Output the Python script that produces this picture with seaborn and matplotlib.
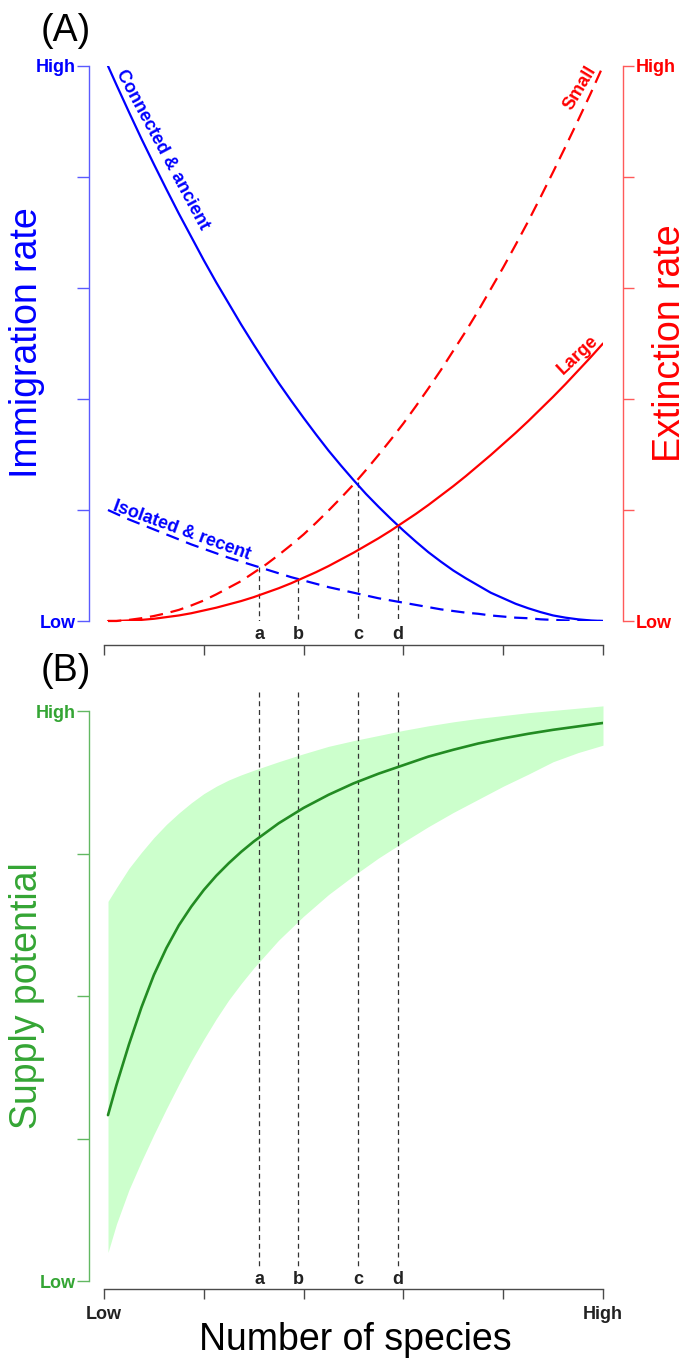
import matplotlib
matplotlib.use("Agg")
import matplotlib.pyplot as plt
import seaborn as sns

# ---------------- data ----------------
# Panel A: species axis positions (0 = Low, 1 = High)
x_a = [0.008, 0.025, 0.05, 0.075, 0.10, 0.125, 0.15, 0.175, 0.20, 0.225, 0.25,
       0.275, 0.30, 0.325, 0.35, 0.375, 0.40, 0.425, 0.45, 0.475, 0.50,
       0.525, 0.55, 0.575, 0.60, 0.625, 0.65, 0.675, 0.70, 0.725, 0.75,
       0.775, 0.80, 0.825, 0.85, 0.875, 0.90, 0.925, 0.95, 0.975, 1.00]

# immigration (blue) and extinction (red) rates, 0 = Low, 1 = High
connected = [1.000, 0.966, 0.917, 0.869, 0.823, 0.778, 0.734, 0.692, 0.650, 0.610, 0.572,
             0.534, 0.498, 0.463, 0.429, 0.397, 0.366, 0.336, 0.307, 0.280, 0.254,
             0.229, 0.206, 0.184, 0.163, 0.143, 0.124, 0.107, 0.091, 0.077, 0.064,
             0.051, 0.041, 0.031, 0.023, 0.016, 0.010, 0.006, 0.003, 0.001, 0.000]
isolated = [0.200, 0.193, 0.183, 0.174, 0.165, 0.156, 0.147, 0.138, 0.130, 0.122, 0.114,
            0.107, 0.100, 0.093, 0.086, 0.079, 0.073, 0.067, 0.061, 0.056, 0.051,
            0.046, 0.041, 0.037, 0.033, 0.029, 0.025, 0.021, 0.018, 0.015, 0.013,
            0.010, 0.008, 0.006, 0.005, 0.003, 0.002, 0.001, 0.001, 0.000, 0.000]
small = [0.000, 0.000, 0.002, 0.005, 0.009, 0.014, 0.020, 0.028, 0.037, 0.048, 0.060,
         0.072, 0.087, 0.102, 0.119, 0.137, 0.156, 0.177, 0.199, 0.222, 0.246,
         0.272, 0.299, 0.327, 0.356, 0.387, 0.419, 0.452, 0.487, 0.522, 0.559,
         0.598, 0.637, 0.678, 0.720, 0.764, 0.809, 0.855, 0.902, 0.950, 1.000]
large = [0.000, 0.000, 0.001, 0.002, 0.004, 0.007, 0.010, 0.014, 0.019, 0.024, 0.030,
         0.036, 0.043, 0.051, 0.059, 0.068, 0.078, 0.088, 0.099, 0.111, 0.123,
         0.136, 0.149, 0.163, 0.178, 0.193, 0.209, 0.226, 0.243, 0.261, 0.280,
         0.299, 0.319, 0.339, 0.360, 0.382, 0.404, 0.427, 0.451, 0.475, 0.500]

# Panel B: supply potential (0 = Low, 1 = High)
x_b = [0.008, 0.025, 0.05, 0.075, 0.10, 0.125, 0.15, 0.175, 0.20, 0.225, 0.25,
       0.275, 0.30, 0.35, 0.40, 0.45, 0.50, 0.55, 0.60, 0.65, 0.70,
       0.75, 0.80, 0.85, 0.90, 0.95, 1.00]
supply_mid = [0.291, 0.344, 0.415, 0.480, 0.537, 0.584, 0.624, 0.657, 0.686, 0.711, 0.733,
              0.753, 0.771, 0.803, 0.830, 0.853, 0.873, 0.890, 0.905, 0.920, 0.932,
              0.943, 0.952, 0.960, 0.967, 0.973, 0.979]
supply_high = [0.666, 0.690, 0.724, 0.752, 0.778, 0.801, 0.821, 0.839, 0.855, 0.868, 0.879,
               0.888, 0.896, 0.911, 0.925, 0.938, 0.948, 0.957, 0.966, 0.974, 0.981,
               0.987, 0.992, 0.997, 1.001, 1.005, 1.009]
supply_low = [0.050, 0.100, 0.160, 0.210, 0.257, 0.302, 0.345, 0.386, 0.424, 0.460, 0.493,
              0.522, 0.549, 0.598, 0.640, 0.678, 0.711, 0.742, 0.770, 0.797, 0.822,
              0.845, 0.868, 0.889, 0.911, 0.927, 0.940]

marks = ["a", "b", "c", "d"]
mark_x = [0.311, 0.389, 0.509, 0.589]
mark_top_A = [0.097, 0.076, 0.251, 0.172]

yticks_A = [0, 0.2, 0.4, 0.6, 0.8, 1.0]
yticks_B = [0, 0.25, 0.5, 0.75, 1.0]
xticks = [0, 0.2, 0.4, 0.6, 0.8, 1.0]
level_labels_A = ["Low", "", "", "", "", "High"]
level_labels_B = ["Low", "", "", "", "High"]
x_labels = ["Low", "", "", "", "", "High"]

# ---------------- style ----------------
sns.set_theme(style="white")
plt.rcParams["font.family"] = ["Liberation Sans", "DejaVu Sans"]

W, H = 691, 1371
fig = plt.figure(figsize=(W / 100, H / 100), dpi=100)

def fpos(x, y):
    return x / W, 1 - y / H

def pt(px):
    return px * 72 / 100

BLUE = "#0000ff"
RED = "#ff0000"
BLUE_AX = "#5a5aff"
RED_AX = "#ff5a5a"
GREEN_LINE = "#228b22"
GREEN_TXT = "#34a534"
GREEN_AX = "#62b862"
GREEN_BAND = "#ccffcc"
GREY_AX = "#4a4a4a"
DARK = "#222222"

# ---------------- Panel A ----------------
axA = fig.add_axes([104 / W, (H - 621) / H, 499 / W, 555 / H])
axA.set_xlim(0, 1)
axA.set_ylim(0, 1)

dash = (0, (6, 3.5))
sns.lineplot(x=x_a, y=connected, ax=axA, color=BLUE, lw=1.6, estimator=None, sort=False)
sns.lineplot(x=x_a, y=isolated, ax=axA, color=BLUE, lw=1.6, linestyle=dash, estimator=None, sort=False)
sns.lineplot(x=x_a, y=small, ax=axA, color=RED, lw=1.6, linestyle=dash, estimator=None, sort=False, clip_on=False)
sns.lineplot(x=x_a, y=large, ax=axA, color=RED, lw=1.6, estimator=None, sort=False)

for m, xm, top in zip(marks, mark_x, mark_top_A):
    axA.plot([xm, xm], [top, 0.0], color="#333333", lw=0.9, linestyle=(0, (4, 3)), zorder=1)
    axA.text(xm, -0.025, m, ha="center", va="center", fontsize=13, fontweight="bold", color=DARK)

lab = dict(fontsize=13, fontweight="bold", ha="center", va="center", rotation_mode="anchor")
axA.text((162 - 104) / 499, (621 - 150) / 555, "Connected & ancient", color=BLUE, rotation=-61.8, **lab)
axA.text((182 - 104) / 499, (621 - 531) / 555, "Isolated & recent", color=BLUE, rotation=-20, **lab)
axA.text((580 - 104) / 499, (621 - 88) / 555, "Small", color=RED, rotation=59, **lab)
axA.text((578 - 104) / 499, (621 - 355) / 555, "Large", color=RED, rotation=43, **lab)

for s in ["top", "right"]:
    axA.spines[s].set_visible(False)
axA.spines["left"].set_position(("outward", pt(15)))
axA.spines["left"].set_bounds(0, 1)
axA.spines["left"].set_color(BLUE_AX)
axA.spines["left"].set_linewidth(1.0)
axA.spines["bottom"].set_position(("outward", pt(24)))
axA.spines["bottom"].set_bounds(0, 1)
axA.spines["bottom"].set_color(GREY_AX)
axA.spines["bottom"].set_linewidth(1.0)
axA.set_yticks(yticks_A)
axA.set_yticklabels(level_labels_A, fontsize=13, fontweight="bold", color=BLUE)
axA.tick_params(axis="y", length=pt(12), width=1, color=BLUE_AX, pad=1, left=True)
axA.set_xticks(xticks)
axA.set_xticklabels([""] * len(xticks))
axA.tick_params(axis="x", length=pt(10), width=1, color=GREY_AX, bottom=True)

axA2 = axA.twinx()
axA2.set_ylim(0, 1)
for s in ["top", "left", "bottom"]:
    axA2.spines[s].set_visible(False)
axA2.spines["right"].set_position(("outward", pt(20)))
axA2.spines["right"].set_bounds(0, 1)
axA2.spines["right"].set_color(RED_AX)
axA2.spines["right"].set_linewidth(1.0)
axA2.set_yticks(yticks_A)
axA2.set_yticklabels(level_labels_A, fontsize=13, fontweight="bold", color=RED)
axA2.tick_params(axis="y", length=pt(11), width=1, color=RED_AX, pad=1, right=True)

# ---------------- Panel B ----------------
axB = fig.add_axes([104 / W, (H - 1281) / H, 499 / W, 570 / H])
axB.set_xlim(0, 1)
axB.set_ylim(0, 1)
axB.fill_between(x_b, supply_low, supply_high, color=GREEN_BAND, lw=0, clip_on=False, zorder=0)
sns.lineplot(x=x_b, y=supply_mid, ax=axB, color=GREEN_LINE, lw=1.9, estimator=None, sort=False)
for m, xm in zip(marks, mark_x):
    axB.plot([xm, xm], [1.033, 0.023], color="#333333", lw=0.9, linestyle=(0, (4, 3)),
             clip_on=False, zorder=1)
    axB.text(xm, 0.002, m, ha="center", va="center", fontsize=13, fontweight="bold", color=DARK)

for s in ["top", "right"]:
    axB.spines[s].set_visible(False)
axB.spines["left"].set_position(("outward", pt(15)))
axB.spines["left"].set_bounds(0, 1)
axB.spines["left"].set_color(GREEN_AX)
axB.spines["left"].set_linewidth(1.0)
axB.spines["bottom"].set_position(("outward", pt(8)))
axB.spines["bottom"].set_bounds(0, 1)
axB.spines["bottom"].set_color(GREY_AX)
axB.spines["bottom"].set_linewidth(1.0)
axB.set_yticks(yticks_B)
axB.set_yticklabels(level_labels_B, fontsize=13, fontweight="bold", color=GREEN_TXT)
axB.tick_params(axis="y", length=pt(12), width=1, color=GREEN_AX, pad=1, left=True)
axB.set_xticks(xticks)
axB.set_xticklabels(x_labels, fontsize=13, fontweight="bold", color=DARK)
axB.tick_params(axis="x", length=pt(10), width=1, color=GREY_AX, pad=5, bottom=True)

# ---------------- titles & axis titles ----------------
big = dict(fontsize=27, ha="center", va="center")
fig.text(*fpos(66, 31), "(A)", color="black", **big)
fig.text(*fpos(66, 671), "(B)", color="black", **big)
fig.text(*fpos(27, 343), "Immigration rate", color=BLUE, rotation=90, **big)
fig.text(*fpos(670, 343), "Extinction rate", color=RED, rotation=90, **big)
fig.text(*fpos(27, 996), "Supply potential", color=GREEN_TXT, rotation=90, **big)
fig.text(*fpos(355, 1340), "Number of species", color="black", **big)

fig.savefig("out.png", dpi=100, facecolor="white")
